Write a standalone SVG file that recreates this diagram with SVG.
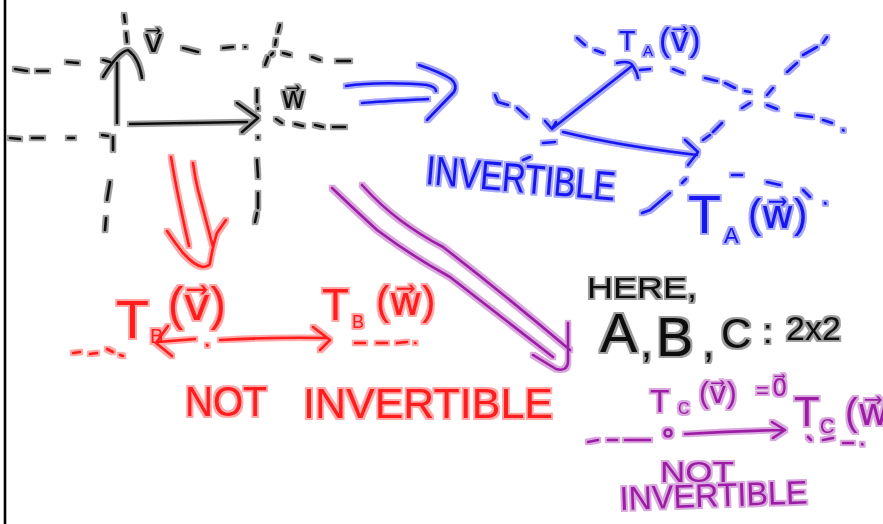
<svg xmlns="http://www.w3.org/2000/svg" width="883" height="524" viewBox="0 0 883 524">
<defs>
<filter id="halo" filterUnits="userSpaceOnUse" x="0" y="0" width="883" height="524">
<feMorphology in="SourceGraphic" operator="dilate" radius="1.8" result="d"/>
<feColorMatrix in="d" type="matrix" values="1 0 0 0 0  0 1 0 0 0  0 0 1 0 0  0 0 0 0.38 0" result="h"/>
<feMerge><feMergeNode in="h"/><feMergeNode in="SourceGraphic"/></feMerge>
</filter>
</defs>
<style>
path,line{fill:none;stroke-width:2.6;stroke-linecap:round;stroke-linejoin:round}
.k{stroke:#111}
.b{stroke:#1414f0}
.r{stroke:#ff1a1a}
.p{stroke:#9c1fa6}
text{font-family:"Liberation Sans","DejaVu Sans",sans-serif}
.tk{fill:#111}
.tb{fill:#1414f0}
.tr{fill:#ff1a1a}
.tp{fill:#9c1fa6}
</style>
<rect x="0" y="0" width="883" height="524" fill="#fff"/>
<line x1="5" y1="0" x2="5" y2="524" stroke="#000" stroke-width="3"/>

<g id="plane-original" filter="url(#halo)">
<path class="k" d="M124,15 L125,22 M126,33 L127,42"/>
<path class="k" d="M117,123 L117,63 M103,77 Q118,52 128,50 Q139,58 142,78 M103,60 L110,62"/>
<path class="k" d="M15,69 L27,71 M37,71 L48,71 M67,62 L78,63"/>
<path class="k" d="M183,48 L198,52 M223,48 L233,47 M245,47 L245.5,47"/>
<path class="k" d="M280,25 L278,32 M276,40 L275,45 M265,65 L268,57 M271,55 L273,53"/>
<path class="k" d="M283,53 L290,55 M312,57 L320,60 M337,61 L350,61"/>
<path class="k" d="M257,90 L257,102 M258,108 L258,109 M258,137 L258,138 M257,160 L258,177 M258,193 L258,208 M257,213 L255,222"/>
<path class="k" d="M130,124 Q190,123 247,122 M237,103 L258,118 L242,132"/>
<path class="k" d="M276,119 L282,123 M295,124 L303,126 M315,125 L323,127 M333,127 L345,127"/>
<path class="k" d="M10,138 L20,139 M32,138 L43,138 M68,138 L74,138 M102,135 L108,136 M113,137 L113,150"/>
<path class="k" d="M110,182 L107,200 M106,218 L105,230"/>
<text class="tk" x="144" y="52" font-size="32">v⃗</text>
<text class="tk" x="281" y="108" font-size="30">w⃗</text>
</g>

<g id="plane-A" filter="url(#halo)">
<path class="b" d="M553,128 L632,66 M617,63 Q630,60 633,66 Q637,72 638,78 M545,121 L552,129 L556,122"/>
<path class="b" d="M563,132 Q620,146 697,155 M685,140 L698,152 L688,165"/>
<path class="b" d="M495,95 L498,102 L508,105 M517,108 L527,117 M543,143 L555,142 M523,160 L530,157"/>
<path class="b" d="M577,38 L585,45 M595,50 L603,53 M640,70 L650,69 M673,69 L683,73 M705,78 L717,81 M725,83 L735,88 M745,91 L750,92 M767,105 L777,109 M797,115 L812,117 M823,120 L832,123 M843,130 L843.5,130.5"/>
<path class="b" d="M642,213 L650,210 L670,193 M682,183 L686,179 M703,140 L710,135 M713,132 L722,123 M742,108 L750,103 M767,95 L773,88 M787,72 L797,63 M803,55 L817,47 M823,43 L827,37"/>
<path class="b" d="M732,175 L742,175 M767,182 L780,185 M803,190 L810,197 M825,203 L825.5,203.5"/>
<text class="tb"><tspan x="619" y="50" font-size="27">T</tspan><tspan x="643" y="56" font-size="15">A</tspan><tspan x="659" y="51" font-size="33">(v⃗)</tspan></text>
<text class="tb"><tspan x="688" y="233" font-size="54">T</tspan><tspan x="724" y="243" font-size="22">A</tspan><tspan x="748" y="228" font-size="40">(w⃗)</tspan></text>
<text class="tb" x="425" y="184" font-size="41" textLength="190" lengthAdjust="spacingAndGlyphs" transform="rotate(5 425 184)">INVERTIBLE</text>
</g>

<g id="plane-B" filter="url(#halo)">
<path class="r" d="M195,339 L158,342 M168,326 L156,343 L172,356"/>
<path class="r" d="M207,345 L207.5,345.5"/>
<path class="r" d="M220,340 Q270,337 327,338 M313,327 L330,340 L320,350"/>
<path class="r" d="M73,353 L80,352 M90,354 L97,353 M107,349 L113,352 M120,355 L123,356"/>
<path class="r" d="M355,343 L365,343 M377,343 L387,343 M397,343 L407,342 M415,343 L415.5,343"/>
<text class="tr"><tspan x="116" y="338" font-size="54">T</tspan><tspan x="150" y="343" font-size="20">B</tspan><tspan x="168" y="320" font-size="46">(v⃗)</tspan></text>
<text class="tr"><tspan x="322" y="320" font-size="44">T</tspan><tspan x="352" y="328" font-size="18">B</tspan><tspan x="376" y="315" font-size="40">(w⃗)</tspan></text>
<text class="tr" x="185" y="416" font-size="42" textLength="82" lengthAdjust="spacingAndGlyphs">NOT</text>
<text class="tr" x="303" y="418" font-size="42" textLength="250" lengthAdjust="spacingAndGlyphs">INVERTIBLE</text>
</g>

<g id="plane-C" filter="url(#halo)">
<path class="p" d="M588,442 L598,440 M608,440 L617,440 M625,440 L650,440"/>
<circle cx="668" cy="433" r="3.5" fill="none" stroke="#9c1fa6" stroke-width="2.6"/>
<path class="p" d="M685,434 Q735,431 783,430 M772,422 L785,430 L773,438"/>
<path class="p" d="M808,437 L811,440 M823,440 L833,438 M843,443 L853,443 M862,444 L862.5,444.5"/>
<text class="tp"><tspan x="650" y="412" font-size="32">T</tspan><tspan x="678" y="414" font-size="16">C</tspan><tspan x="699" y="403" font-size="30">(v⃗)</tspan><tspan x="756" y="398" font-size="22">=</tspan><tspan x="772" y="396" font-size="24">0⃗</tspan></text>
<text class="tp"><tspan x="794" y="426" font-size="42">T</tspan><tspan x="820" y="433" font-size="20">C</tspan><tspan x="845" y="425" font-size="38">(w⃗)</tspan></text>
<text class="tp" x="660" y="482" font-size="29" textLength="74" lengthAdjust="spacingAndGlyphs">NOT</text>
<text class="tp" x="620" y="510" font-size="33" textLength="188" lengthAdjust="spacingAndGlyphs" transform="rotate(-2 620 510)">INVERTIBLE</text>
</g>

<g id="note" filter="url(#halo)">
<text class="tk" x="587" y="298" font-size="30" textLength="110" lengthAdjust="spacingAndGlyphs">HERE,</text>
<text class="tk"><tspan x="600" y="352" font-size="56">A</tspan><tspan x="641" y="357" font-size="40">,</tspan><tspan x="656" y="356" font-size="56">B</tspan><tspan x="703" y="357" font-size="40">,</tspan><tspan x="721" y="348" font-size="42">C</tspan><tspan x="763" y="343" font-size="34">:</tspan><tspan x="786" y="340" font-size="34">2x2</tspan></text>
</g>

<g id="connectors" filter="url(#halo)">
<path class="b" d="M346,86 C370,82 410,83 427,85 Q436,87 436,91 M362,103 C385,101 410,100 428,99 M419,65 Q440,72 451,79 Q458,85 454,92 L427,120"/>
<path class="r" d="M171,157 Q174,175 177,190 Q183,220 189,246 M193,163 Q195,178 198,190 Q206,220 213,247 M167,231 Q175,243 183,253 Q195,266 203,267 Q210,266 210,263 Q213,245 217,233 L226,220"/>
<path class="p" d="M332,188 Q355,210 377,230 Q410,255 450,277 Q505,320 553,357 M362,185 Q380,205 400,220 Q420,235 443,247 Q505,295 570,350 M568,323 L568,362 Q567,372 556,369 L533,355"/>
</g>
</svg>
